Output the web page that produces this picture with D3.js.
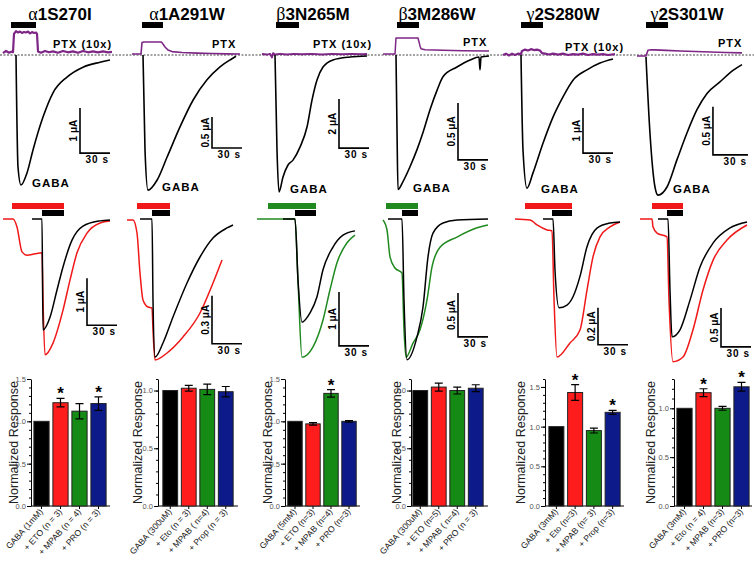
<!DOCTYPE html>
<html><head><meta charset="utf-8">
<script src="https://cdn.jsdelivr.net/npm/d3@7"></script>
<style>body{margin:0;background:#fff}svg{display:block}</style>
</head><body><svg id="c" width="754" height="561"></svg>
<script>
// ---------------- DATA ----------------
const titles = [["α","1S270I"],["α","1A291W"],["β","3N265M"],["β","3M286W"],["γ","2S280W"],["γ","2S301W"]];
const ptxLabels = ["PTX (10x)","PTX","PTX (10x)","PTX","PTX (10x)","PTX"];
const gabaLabel = "GABA";
const timeBarSec = 30;
const topAmp = [1, 0.5, 2, 0.5, 1, 0.5];
const topAmpLabels = ["1 μA","0.5 μA","2 μA","0.5 μA","1 μA","0.5 μA"];
const midAmp = [1, 0.3, 1, 0.5, 0.2, 0.5];
const midAmpLabels = ["1 μA","0.3 μA","1 μA","0.5 μA","0.2 μA","0.5 μA"];

// application periods (s)
const topGabaApp = [[8,33],[10,31],[14,37],[14,36],[18,40],[7.7,26.6]];
const midDrugApp = [[9,61],[10,43],[11,59],[3,35],[10,57],[12,43]];
const midGabaApp = [[39,61],[25,43],[38,59],[19,35],[37,57],[27,43]];

// top traces: [time s, current μA]
const ptx1 = [[0,0.04],[3,0.09],[6,0.05],[9,0.08],[10,0.06],[11,0.47],[13,0.53],[15,0.50],[17,0.52],[19,0.49],[21,0.51],[23,0.50],[25,0.52],[27,0.48],[29,0.51],[31,0.49],[33,0.50],[34,0.47],[35,0.08],[38,0.05],[42,0.09],[46,0.06],[50,0.08],[55,0.05],[60,0.09],[65,0.06],[70,0.08],[75,0.05],[80,0.09],[85,0.06],[90,0.08],[95,0.06],[100,0.08],[105,0.06],[109,0.07]];
const ptx2 = [[0,0.016],[9,0.016],[10,0.2],[12,0.21],[20,0.21],[29,0.21],[30,0.2],[33,0.13],[36,0.08],[40,0.055],[50,0.04],[65,0.03],[80,0.024],[95,0.018],[108,0.016]];
const ptx3 = [[0,0.04],[5,0.02],[8,0.05],[10,-0.1],[11,0.08],[13,0.02],[18,0.05],[25,0.02],[32,0.05],[40,0.03],[50,0.05],[60,0.02],[70,0.05],[80,0.03],[90,0.05],[100,0.03],[105,0.04]];
const ptx4 = [[0,0.009],[12,0.009],[13,0.149],[35,0.149],[37,0.08],[38,0.055],[42,0.046],[60,0.041],[80,0.038],[106,0.035]];
const ptx5 = [[0,0.0],[3,0.03],[6,-0.01],[9,0.03],[12,0.0],[15,0.03],[18,0.02],[19,0.09],[22,0.12],[25,0.10],[28,0.13],[31,0.11],[34,0.12],[37,0.10],[39,0.04],[42,0.03],[46,0.01],[50,0.03],[55,0.01],[60,0.03],[65,0.0],[70,0.02],[75,0.01],[80,0.03],[85,0.0],[90,0.02],[95,0.01],[100,0.02],[105,0.0],[112,0.02]];
const ptx6 = [[0,-0.01],[7.7,-0.01],[9.4,0.05],[12,0.055],[15.4,0.053],[25,0.048],[37,0.042],[50,0.036],[63,0.031],[76,0.026],[90,0.022]];

const gaba1 = [[13,0],[15,-2.49],[18,-2.89],[24,-2.62],[30,-2.11],[40,-1.38],[50,-0.84],[64,-0.49],[80,-0.27],[97,-0.16],[107,-0.11]];
const gaba2 = [[11,0],[13,-1.53],[16,-2.18],[25,-2.02],[35,-1.65],[48,-1.16],[61,-0.73],[75,-0.40],[88,-0.19],[100,-0.06],[104,-0.02]];
const gaba3 = [[13,0],[15,-3.88],[17,-5.59],[21,-4.98],[26,-4.49],[31,-4.29],[38,-3.76],[45,-2.94],[50,-1.84],[55,-1.02],[61,-0.49],[71,-0.20],[88,-0.08],[105,-0.04]];
const gaba4 = [[13,0],[14,-0.66],[15,-1.18],[20,-1.11],[27,-0.98],[34,-0.83],[40,-0.68],[47,-0.48],[54,-0.31],[60,-0.19],[74,-0.105],[87,-0.044],[96,-0.018],[97,-0.13],[98,-0.018],[106,-0.009]];
const gaba5 = [[18,0],[20,-2.11],[24,-2.96],[30,-2.62],[40,-1.96],[50,-1.38],[60,-0.93],[70,-0.56],[84,-0.33],[97,-0.18],[110,-0.09]];
const gaba6 = [[7.7,-0.02],[11.1,-0.81],[15.4,-1.375],[18,-1.46],[25.7,-1.375],[34.3,-1.09],[42.9,-0.81],[51.4,-0.57],[60,-0.40],[71.1,-0.28],[82.3,-0.16],[90,-0.10]];

// middle traces: control (GABA alone) and with drug
const ctl1 = [[29,0],[39,0],[40,-2.36],[47,-2.09],[54,-1.51],[60,-1.02],[69,-0.45],[80,-0.15],[97,-0.04],[107,-0.02]];
const drug1 = [[0,0],[10,0],[14,-0.17],[19,-0.70],[24,-0.77],[32,-0.74],[39,-0.72],[40,-1.72],[42,-2.89],[50,-2.64],[60,-1.94],[67,-1.30],[74,-0.72],[84,-0.30],[97,-0.085],[107,-0.043]];
const ctl2 = [[13,0],[25,0],[26,-0.506],[28,-0.8625],[36,-0.775],[46,-0.6125],[60,-0.40],[73,-0.2375],[86,-0.119],[100,-0.056],[106,-0.0375]];
const drug2 = [[0,-0.006],[6,-0.006],[10,-0.0875],[13,-0.3375],[16,-0.506],[21,-0.55],[25,-0.556],[26,-0.694],[28,-0.881],[40,-0.8375],[56,-0.7375],[73,-0.5875],[86,-0.40],[95,-0.256]];
const ctl3 = [[26,0],[38,0],[41,-1.13],[45,-1.91],[53,-1.74],[60,-1.44],[66,-0.94],[76,-0.52],[86,-0.30],[98,-0.22]];
const drug3 = [[0,0],[38,0],[41,-1.15],[45,-2.56],[56,-2.37],[66,-1.87],[73,-1.31],[80,-0.81],[90,-0.44],[98,-0.30]];
const ctl4 = [[5,0],[19,0],[21,-0.92],[24,-1.60],[34,-1.34],[40,-1.0],[45,-0.43],[50,-0.16],[60,-0.045],[74,-0.011],[105,0]];
const drug4 = [[0,-0.011],[4,-0.125],[7,-0.43],[12,-0.557],[19,-0.614],[21,-1.26],[23,-1.57],[30,-1.41],[37,-1.26],[44,-0.92],[49,-0.545],[57,-0.32],[74,-0.205],[94,-0.10],[105,-0.068]];
const ctl5 = [[28,0],[38,0],[40,-0.276],[44,-0.48],[52,-0.465],[58,-0.42],[65,-0.31],[72,-0.15],[82,-0.049],[95,-0.022],[105,-0.016]];
const drug5 = [[0,0],[15,-0.005],[22,-0.032],[32,-0.059],[37,-0.065],[39,-0.43],[42,-0.746],[55,-0.67],[65,-0.60],[72,-0.384],[78,-0.205],[85,-0.097],[95,-0.043],[105,-0.016]];
const ctl6 = [[18,0],[28,0],[30,-0.91],[32,-1.51],[40,-1.42],[50,-1.04],[60,-0.615],[73,-0.31],[90,-0.115],[107,-0.038]];
const drug6 = [[0,0],[12,0],[13,-0.10],[17,-0.18],[27,-0.23],[29,-1.04],[33,-1.83],[43,-1.77],[53,-1.42],[63,-0.91],[73,-0.53],[87,-0.27],[107,-0.077]];

// bar charts
const barCats = [
  ["GABA (1mM)","+ ETO (n = 3)","+ MPAB (n = 4)","+ PRO (n = 3)"],
  ["GABA (300uM)","+ Eto (n = 3)","+ MPAB ( n=4)","+ Prop (n = 3)"],
  ["GABA (5mM)","+ ETO (n=3)","+ MPAB (n=4)","+ PRO (n=3)"],
  ["GABA (300uM)","+ ETO (n=5)","+ MPAB ( n=4)","+ PRO (n = 3)"],
  ["GABA (3mM)","+ Eto (n=3)","+ MPAB (n= 3)","+ Prop (n=3)"],
  ["GABA (3mM)","+ Eto (n = 4)","+ MPAB (n=3)","+ PRO (n=3)"]
];
const barMeans = [[1.0,1.22,1.12,1.21],[1.0,1.02,1.01,0.99],[1.0,0.97,1.33,1.0],[1.0,1.03,1.0,1.02],[1.0,1.43,0.95,1.18],[1.0,1.16,1.0,1.22]];
const barErrs  = [[0,0.05,0.09,0.08],[0,0.025,0.045,0.045],[0,0.015,0.045,0.01],[0,0.035,0.03,0.03],[0,0.10,0.03,0.025],[0,0.04,0.02,0.045]];
const barStars = [[0,1,0,1],[0,0,0,0],[0,0,1,0],[0,0,0,0],[0,1,0,1],[0,1,0,1]];
const yMaxes = [1.5,1.1,1.5,1.1,1.6,1.3];
const yTicks = [[0,0.5,1.0,1.5],[0,0.5,1.0],[0,0.5,1.0,1.5],[0,0.5,1.0],[0,0.5,1.0,1.5],[0,0.5,1.0]];
const yLabel = "Normalized Response";

// ---------------- LAYOUT ----------------
const FONT = "Arial, 'Liberation Sans', Helvetica, sans-serif";
const BAR_COLORS = ["#000000","#ff1c1c","#158a15","#0c1a8a"];
const RED = "#f01818", GREEN = "#208a20", PURPLE = "#7e2686";
const drugColors = [RED, RED, GREEN, GREEN, RED, RED];
const titleX = [60,187,313,437,563,687];
const topY0 = 55, midY0 = 219;
const topL = [
  {x0:3,kx:1,ky:45,sb:[77,-2.18],ptx:[53,48],gaba:[32,187],ptxW:2.2},
  {x0:132,kx:1,ky:62,sb:[80,-1.5],ptx:[212,48],gaba:[162,191],ptxW:1.6},
  {x0:262,kx:1,ky:24.5,sb:[77,-3.8],ptx:[313,48],gaba:[290,193],ptxW:1.8},
  {x0:383,kx:1,ky:114,sb:[75,-0.92],ptx:[463,46],gaba:[413,192],ptxW:1.5},
  {x0:503,kx:1,ky:45,sb:[80,-2.18],ptx:[565,51],gaba:[541,193],ptxW:2.2},
  {x0:637,kx:1.1667,ky:96,sb:[65.1,-1.04],ptx:[718,47],gaba:[673,193],ptxW:1.6}
];
const midL = [
  {x0:3,kx:1,ky:47,sb:[84,-2.26]},
  {x0:127,kx:1,ky:160,sb:[85,-0.78]},
  {x0:257,kx:1,ky:54,sb:[82,-2.35]},
  {x0:383,kx:1,ky:88,sb:[75,-1.34]},
  {x0:515,kx:1,ky:185,sb:[83,-0.68]},
  {x0:640,kx:1,ky:78,sb:[81,-1.64]}
];
const chartL = [
  {ax:31,r0:32,r1:108,end:110,lab:14},
  {ax:158,r0:161,r1:235,end:238,lab:138},
  {ax:285,r0:286,r1:358,end:360,lab:268},
  {ax:411,r0:411,r1:485,end:488,lab:397},
  {ax:545,r0:547,r1:622,end:624,lab:521},
  {ax:674,r0:675,r1:751,end:752,lab:651}
];
const chartTop = 379, chartBot = 506;

const ptxData = [ptx1,ptx2,ptx3,ptx4,ptx5,ptx6];
const gabaData = [gaba1,gaba2,gaba3,gaba4,gaba5,gaba6];
const ctlData = [ctl1,ctl2,ctl3,ctl4,ctl5,ctl6];
const drugData = [drug1,drug2,drug3,drug4,drug5,drug6];

const svg = d3.select("#c");

// titles
titles.forEach((t,i)=>{
  const tx = svg.append("text").attr("x",titleX[i]).attr("y",20).attr("text-anchor","middle")
    .style("font-family",FONT).style("font-size","17px").style("font-weight","bold");
  tx.append("tspan").text(t[0]).style("font-family","'Liberation Serif','DejaVu Serif',serif").style("font-weight","normal").style("font-size","18px");
  tx.append("tspan").text(t[1]);
});

// dashed baseline
svg.append("line").attr("x1",0).attr("x2",754).attr("y1",topY0).attr("y2",topY0)
  .attr("stroke","#444").attr("stroke-width",1).attr("stroke-dasharray","2,1.5");

function scales(L, y0){
  return {
    x: d3.scaleLinear().domain([0,1]).range([L.x0, L.x0+L.kx]),
    y: d3.scaleLinear().domain([0,1]).range([y0, y0-L.ky])
  };
}
function scaleBar(g, s, L, amp, label){
  const t = L.sb[0], I = L.sb[1];
  g.append("path").attr("d",`M${s.x(t)},${s.y(I+amp)}V${s.y(I)}H${s.x(t+timeBarSec)}`)
    .attr("fill","none").attr("stroke","#000").attr("stroke-width",1.6);
  g.append("text").attr("transform",`translate(${s.x(t)-3},${(s.y(I+amp)+s.y(I))/2}) rotate(-90)`)
    .attr("text-anchor","middle").style("font-family",FONT).style("font-size","10px").style("font-weight","bold").text(label);
  g.append("text").attr("x",s.x(t+timeBarSec)-1).attr("y",s.y(I)+10).attr("text-anchor","end")
    .style("font-family",FONT).style("font-size","10px").style("font-weight","bold").style("letter-spacing","1px").text(timeBarSec+" s");
}

// top panels
topL.forEach((L,i)=>{
  const g = svg.append("g");
  const s = scales(L, topY0);
  const lin = d3.line().x(d=>s.x(d[0])).y(d=>s.y(d[1]));
  const mono = d3.line().x(d=>s.x(d[0])).y(d=>s.y(d[1])).curve(d3.curveMonotoneX);
  g.append("path").attr("d",lin(ptxData[i])).attr("fill","none").attr("stroke",PURPLE).attr("stroke-width",L.ptxW).attr("stroke-linejoin","round");
  g.append("path").attr("d",mono(gabaData[i])).attr("fill","none").attr("stroke","#000").attr("stroke-width",1.6);
  const a = topGabaApp[i];
  g.append("rect").attr("x",s.x(a[0])).attr("width",s.x(a[1])-s.x(a[0])).attr("y",22).attr("height",6).attr("fill","#000");
  scaleBar(g, s, L, topAmp[i], topAmpLabels[i]);
  g.append("text").attr("x",L.ptx[0]).attr("y",L.ptx[1]).style("font-family",FONT).style("font-size","11px").style("font-weight","bold").style("letter-spacing","1px").text(ptxLabels[i]);
  g.append("text").attr("x",L.gaba[0]).attr("y",L.gaba[1]).style("font-family",FONT).style("font-size","11.5px").style("font-weight","bold").style("letter-spacing","1px").text(gabaLabel);
});

// middle panels
midL.forEach((L,i)=>{
  const g = svg.append("g");
  const s = scales(L, midY0);
  const mono = d3.line().x(d=>s.x(d[0])).y(d=>s.y(d[1])).curve(d3.curveMonotoneX);
  g.append("path").attr("d",mono(drugData[i])).attr("fill","none").attr("stroke",drugColors[i]).attr("stroke-width",1.5);
  g.append("path").attr("d",mono(ctlData[i])).attr("fill","none").attr("stroke","#000").attr("stroke-width",1.5);
  const a = midDrugApp[i], b = midGabaApp[i];
  g.append("rect").attr("x",s.x(a[0])).attr("width",s.x(a[1])-s.x(a[0])).attr("y",203).attr("height",6).attr("fill",drugColors[i]);
  g.append("rect").attr("x",s.x(b[0])).attr("width",s.x(b[1])-s.x(b[0])).attr("y",210).attr("height",6).attr("fill","#000");
  scaleBar(g, s, L, midAmp[i], midAmpLabels[i]);
});

// bar charts
chartL.forEach((C,i)=>{
  const g = svg.append("g");
  const x = d3.scaleBand().domain(barCats[i]).range([C.r0,C.r1]).paddingInner(0.2).paddingOuter(0.1);
  const y = d3.scaleLinear().domain([0,yMaxes[i]]).range([chartBot,chartTop]);
  const minor = d3.range(0, yMaxes[i]+1e-9, 0.1).map(v=>+v.toFixed(2));
  const gm = g.append("g").attr("transform",`translate(${C.ax},0)`).call(d3.axisLeft(y).tickValues(minor).tickSize(2).tickFormat(""));
  gm.select(".domain").remove();
  const gy = g.append("g").attr("transform",`translate(${C.ax},0)`).call(d3.axisLeft(y).tickValues(yTicks[i]).tickSize(4).tickSizeOuter(0).tickFormat(d3.format(".1f")));
  gy.selectAll("text").style("font-family",FONT).style("font-size","7.5px").attr("fill","#555").attr("x",-5);
  gy.selectAll("line, path").attr("stroke","#000");
  g.append("line").attr("x1",C.ax).attr("x2",C.end).attr("y1",chartBot).attr("y2",chartBot).attr("stroke","#000");
  const gx = g.append("g").attr("transform",`translate(0,${chartBot})`).call(d3.axisBottom(x).tickSize(3).tickFormat(""));
  gx.select(".domain").remove();
  gx.selectAll("line").attr("stroke","#000");
  barCats[i].forEach((c,j)=>{
    const m = barMeans[i][j], e = barErrs[i][j];
    g.append("rect").attr("x",x(c)).attr("width",x.bandwidth()).attr("y",y(m)).attr("height",y(0)-y(m))
      .attr("fill",BAR_COLORS[j]).attr("stroke","#222").attr("stroke-width",1);
    if(e>0){
      const cx = x(c)+x.bandwidth()/2;
      g.append("path").attr("d",`M${cx-4},${y(m+e)}H${cx+4}M${cx},${y(m+e)}V${y(m-e)}M${cx-4},${y(m-e)}H${cx+4}`)
        .attr("stroke","#000").attr("stroke-width",1.2).attr("fill","none");
    }
    if(barStars[i][j]){
      g.append("text").attr("x",x(c)+x.bandwidth()/2).attr("y",y(m+e)+1).attr("text-anchor","middle")
        .style("font-family",FONT).style("font-size","17px").style("font-weight","bold").text("*");
    }
    g.append("text").attr("transform",`translate(${x(c)+x.bandwidth()/2+2},${chartBot+6}) rotate(-48)`)
      .attr("text-anchor","end").style("font-family",FONT).style("font-size","8.6px").attr("fill","#222").text(c);
  });
  g.append("text").attr("transform",`translate(${C.lab},${(chartTop+chartBot)/2}) rotate(-90)`)
    .attr("text-anchor","middle").attr("dy","0.35em").style("font-family",FONT).style("font-size","12.5px").attr("fill","#222").text(yLabel);
});
</script>
</body></html>
